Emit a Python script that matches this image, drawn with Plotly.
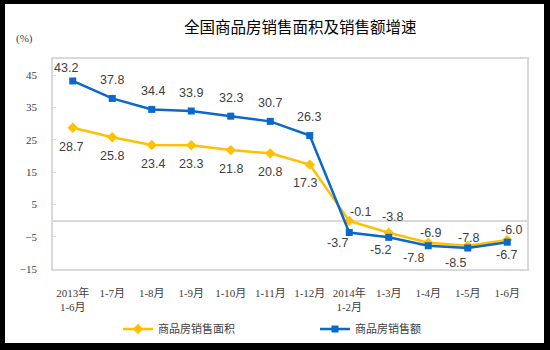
import plotly.graph_objects as go

# Categories (reporting periods)
periods = ["2013年<br>1-6月", "1-7月", "1-8月", "1-9月", "1-10月", "1-11月", "1-12月",
           "2014年<br>1-2月", "1-3月", "1-4月", "1-5月", "1-6月"]

# Year-on-year growth (%)
area_growth = [28.7, 25.8, 23.4, 23.3, 21.8, 20.8, 17.3, -0.1, -3.8, -6.9, -7.8, -6.0]
sales_growth = [43.2, 37.8, 34.4, 33.9, 32.3, 30.7, 26.3, -3.7, -5.2, -7.8, -8.5, -6.7]

area_name = "商品房销售面积"
sales_name = "商品房销售额"
title_text = "全国商品房销售面积及销售额增速"
unit_text = "(%)"

y_ticks = [45, 35, 25, 15, 5, -5, -15]

# Label offsets in pixels (dx right, dy down) for each point
area_label_off = [(-2, 19), (0, 19), (1, 19), (0, 19), (0, 19), (0, 19), (-5, 18),
                  (12, -9), (4, -16), (3, -10), (1, -8), (5, -10)]
sales_label_off = [(-7, -13), (0, -18), (1, -18), (0, -18), (0, -18), (0, -18), (-1, -19),
                   (-11, 11), (-8, 13), (-14, 12), (-12, 15), (0, 13)]

YELLOW = "#FFC000"
BLUE = "#0A68CC"
TEXT = "#404040"
GRID = "#D9D9D9"

L, R, T, B = 53, 23, 59, 81
W, H = 550, 350
pw, ph = W - L - R, H - T - B


def px_to_paper(px, py):
    """Convert canvas pixels to paper coordinates of the plot area."""
    return (px - L) / pw, (H - B - py) / ph


x_idx = list(range(len(periods)))

fig = go.Figure()
fig.add_trace(go.Scatter(
    x=x_idx, y=area_growth, name=area_name, mode="lines+markers",
    line=dict(color=YELLOW, width=2.5),
    marker=dict(symbol="diamond", size=8, color=YELLOW),
))
fig.add_trace(go.Scatter(
    x=x_idx, y=sales_growth, name=sales_name, mode="lines+markers",
    line=dict(color=BLUE, width=2.5),
    marker=dict(symbol="square", size=7, color=BLUE),
))

annotations = []
for vals, offs in ((area_growth, area_label_off), (sales_growth, sales_label_off)):
    for i, (v, (dx, dy)) in enumerate(zip(vals, offs)):
        annotations.append(dict(
            x=i, y=v, xref="x", yref="y", text=f"{v:.1f}", showarrow=False,
            xshift=dx, yshift=-dy, xanchor="center", yanchor="middle",
            font=dict(family="Liberation Sans, Arial, sans-serif", size=12.5, color=TEXT),
        ))

ux, uy = px_to_paper(24, 39)
annotations.append(dict(
    x=ux, y=uy, xref="paper", yref="paper", text=unit_text,
    showarrow=False, xanchor="center", yanchor="middle",
    font=dict(family="Liberation Serif, Noto Sans CJK SC", size=11, color=TEXT),
))

tx, ty = px_to_paper(300, 26)
annotations.append(dict(
    x=tx, y=ty, xref="paper", yref="paper", text=title_text, showarrow=False,
    xanchor="center", yanchor="middle",
    font=dict(family="Noto Sans CJK SC", size=15.5, color="#000000"),
))

# Black outer frame around the white canvas
frame = []
for (x0, y0, x1, y1) in [(0, 0, 550, 4), (0, 0, 5, 350), (544, 0, 550, 350), (0, 343, 550, 350)]:
    a0, b0 = px_to_paper(x0, y0)
    a1, b1 = px_to_paper(x1, y1)
    frame.append(dict(type="rect", xref="paper", yref="paper", x0=a0, y0=b0, x1=a1, y1=b1,
                      fillcolor="black", line=dict(width=0), layer="above"))

lx, ly = px_to_paper(118, 329)

fig.update_layout(
    width=W, height=H,
    margin=dict(l=L, r=R, t=T, b=B, autoexpand=False),
    paper_bgcolor="white", plot_bgcolor="white",
    showlegend=True,
    legend=dict(orientation="h", x=lx, y=ly, xanchor="left", yanchor="middle",
                font=dict(family="Noto Sans CJK SC", size=11, color=TEXT),
                entrywidth=152, itemwidth=30, bgcolor="rgba(0,0,0,0)"),
    annotations=annotations,
    shapes=frame,
    xaxis=dict(
        range=[-0.5, 11.5], tickmode="array", tickvals=x_idx, ticktext=periods,
        ticks="", showgrid=False, zeroline=False,
        showline=True, linecolor=GRID, linewidth=1.5, mirror=True,
        tickfont=dict(family="Liberation Serif, Noto Sans CJK SC", size=11, color=TEXT),
        ticklabelstandoff=13,
    ),
    xaxis2=dict(
        overlaying="x", anchor="free", position=15 / 65, side="bottom",
        range=[-0.5, 11.5], tickmode="array", tickvals=[k + 0.5 for k in range(11)],
        ticks="inside", ticklen=3, tickcolor=GRID, tickwidth=1,
        showticklabels=False, showgrid=False, zeroline=False, showline=False,
    ),
    yaxis=dict(
        range=[-15, 50], tickmode="array", tickvals=y_ticks,
        ticks="inside", ticklen=3, tickcolor=GRID,
        showgrid=False, zeroline=True, zerolinecolor=GRID, zerolinewidth=2,
        showline=True, linecolor=GRID, linewidth=1.5, mirror=True,
        tickfont=dict(family="Liberation Serif, serif", size=11, color=TEXT),
        ticklabelstandoff=12,
    ),
)

fig.write_html("out.html")
